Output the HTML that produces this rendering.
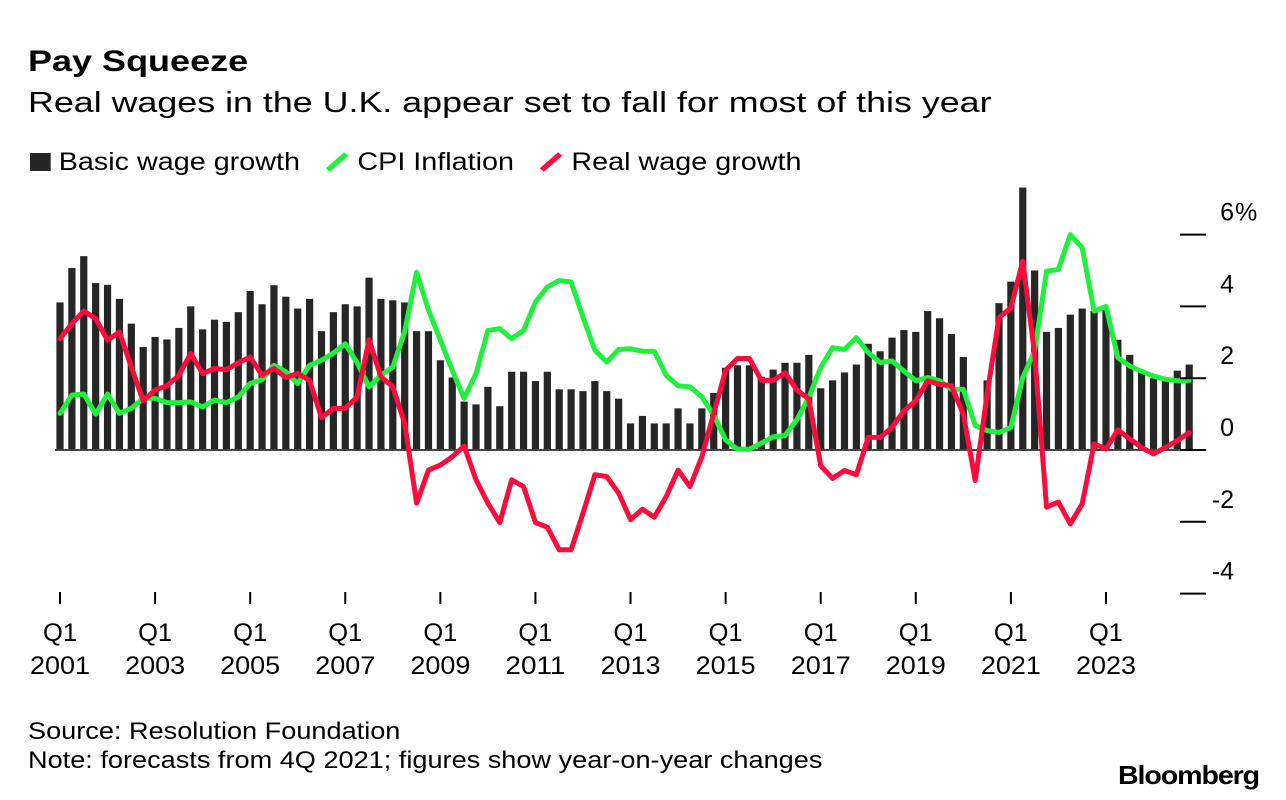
<!DOCTYPE html>
<html><head><meta charset="utf-8"><style>
body{margin:0;background:#fff;font-family:"Liberation Sans",sans-serif;color:#000}
#wrap{position:relative;width:1286px;height:800px;overflow:hidden}
.t{position:absolute;white-space:nowrap;transform-origin:0 0}
</style></head><body>
<div id="wrap">
<div class="t" style="left:28px;top:45px;font-size:30px;font-weight:bold;transform:scaleX(1.2)">Pay Squeeze</div>
<div class="t" style="left:28px;top:87px;font-size:29px;transform:scaleX(1.235)">Real wages in the U.K. appear set to fall for most of this year</div>
<div class="t" style="left:30px;top:148px;font-size:25px;transform:scaleX(1.15)">
<span><span style="display:inline-block;width:18px;height:18px;background:#262626;vertical-align:-1px"></span> Basic wage growth</span>
<span style="margin-left:14px"><svg width="22" height="22" style="vertical-align:-3px"><line x1="3" y1="19" x2="19" y2="3" stroke="#1ef03c" stroke-width="5"/></svg> CPI Inflation</span>
<span style="margin-left:14px"><svg width="22" height="22" style="vertical-align:-3px"><line x1="3" y1="19" x2="19" y2="3" stroke="#ff0a3c" stroke-width="5"/></svg> Real wage growth</span>
</div>
<svg id="plot" width="1286" height="800" style="position:absolute;left:0;top:0"></svg>
<div class="t" style="left:28px;top:718px;font-size:24px;transform:scaleX(1.13)">Source: Resolution Foundation</div>
<div class="t" style="left:28px;top:747px;font-size:24px;transform:scaleX(1.13)">Note: forecasts from 4Q 2021; figures show year-on-year changes</div>
<div class="t" style="left:1118px;top:760px;font-size:26px;font-weight:bold;letter-spacing:-1px;transform:scaleX(1.1)">Bloomberg</div>
</div>
<script>
const basicWage=[4.11,5.07,5.4,4.65,4.6,4.21,3.52,2.87,3.15,3.08,3.4,4.0,3.36,3.63,3.57,3.84,4.43,4.06,4.59,4.27,3.94,4.21,3.31,3.84,4.06,4.0,4.8,4.21,4.17,4.11,3.31,3.31,2.5,2.02,1.35,1.27,1.76,1.22,2.18,2.18,1.92,2.18,1.69,1.69,1.64,1.92,1.64,1.43,0.74,0.95,0.74,0.74,1.16,0.74,1.16,1.59,2.29,2.36,2.36,2.04,2.24,2.43,2.43,2.65,1.72,1.94,2.16,2.38,2.96,2.75,3.13,3.34,3.29,3.87,3.67,3.23,2.59,0,1.94,4.09,4.69,7.31,5.0,3.29,3.4,3.77,3.94,3.87,3.9,3.07,2.65,2.16,2.0,2.0,2.21,2.38];
const cpi=[1.02,1.53,1.56,1.0,1.56,1.02,1.16,1.44,1.44,1.32,1.32,1.34,1.2,1.39,1.32,1.48,1.85,1.96,2.36,2.18,1.85,2.36,2.5,2.7,2.96,2.43,1.76,2.08,2.31,3.3,4.95,3.9,3.06,2.22,1.44,2.13,3.33,3.38,3.1,3.33,4.12,4.54,4.72,4.68,3.7,2.78,2.45,2.8,2.82,2.75,2.75,2.08,1.79,1.76,1.48,0.97,0.28,0.02,0.02,0.19,0.37,0.4,0.85,1.46,2.3,2.85,2.8,3.13,2.71,2.44,2.48,2.2,1.93,2.02,1.93,1.69,1.69,0.68,0.54,0.49,0.63,2.02,2.76,4.98,5.03,6.0,5.63,3.87,4.0,2.57,2.34,2.19,2.06,1.97,1.93,1.94];
const realWage=[3.1,3.52,3.87,3.66,3.06,3.29,2.31,1.37,1.67,1.79,2.08,2.69,2.13,2.27,2.24,2.43,2.59,2.08,2.27,2.02,2.13,1.94,0.9,1.16,1.16,1.48,3.07,2.04,1.76,0.74,-1.48,-0.56,-0.42,-0.19,0.11,-0.83,-1.48,-2.02,-0.83,-1.02,-2.02,-2.15,-2.78,-2.78,-1.76,-0.69,-0.74,-1.2,-1.94,-1.65,-1.87,-1.3,-0.56,-1.02,-0.19,1.02,2.22,2.55,2.55,1.94,1.94,2.15,1.67,1.42,-0.44,-0.79,-0.57,-0.69,0.35,0.35,0.63,1.09,1.37,1.93,1.83,1.79,1.0,-0.85,1.56,3.69,3.96,5.26,2.67,-1.59,-1.45,-2.06,-1.5,0.17,0.03,0.56,0.31,0.07,-0.11,0.07,0.26,0.49];
const yTicks=[6,4,2,0,-2,-4];
const yTickLabels=["6","4","2","0","-2","-4"];
const xLabelIdx=[0,8,16,24,32,40,48,56,64,72,80,88];
const xLabelYears=["2001","2003","2005","2007","2009","2011","2013","2015","2017","2019","2021","2023"];

const NS="http://www.w3.org/2000/svg";
const svg=document.getElementById('plot');
const x=i=>60+i*11.886;
const y=v=>450-v*35.9;
function mk(tag,attrs){const e=document.createElementNS(NS,tag);for(const k in attrs)e.setAttribute(k,attrs[k]);svg.appendChild(e);return e;}

basicWage.forEach((v,i)=>{
  const r=mk('rect',{x:x(i)-3.6,y:Math.min(y(v),y(0)),width:7.2,height:Math.abs(y(v)-y(0)),fill:'#262626'});
  
  
});
const zl=mk('line',{x1:55,x2:1195,y1:y(0),y2:y(0),stroke:'#444','stroke-width':2});



function line(arr,color,name){
  const p=mk('polyline',{points:arr.map((v,i)=>x(i)+','+y(v)).join(' '),fill:'none',stroke:color,'stroke-width':5,'stroke-linejoin':'round','stroke-linecap':'round'});
  
  
}
line(cpi,'#1ef03c','cpi-line');
line(realWage,'#ff0a3c','real-wage-line');

yTicks.forEach((v,i)=>{
  const t=mk('line',{x1:1180,x2:1206,y1:y(v),y2:y(v),stroke:'#000','stroke-width':2});
  
  
  const l=mk('text',{x:1234,y:y(v)-14,'text-anchor':'end','font-size':25,'font-family':'Liberation Sans, sans-serif'});
  l.textContent=yTickLabels[i];
  
  
  if(i===0){
    const pc=mk('text',{x:1235,y:y(v)-14,'font-size':25,'font-family':'Liberation Sans, sans-serif'});
    pc.textContent='%';
    
    
  }
});
xLabelIdx.forEach((idx,i)=>{
  const t=mk('line',{x1:x(idx),x2:x(idx),y1:592,y2:604,stroke:'#000','stroke-width':2});
  
  
  const q=mk('text',{x:x(idx)-17,y:641,'font-size':25,textLength:34,lengthAdjust:'spacingAndGlyphs','font-family':'Liberation Sans, sans-serif'});
  q.textContent='Q1';
  
  
  const yr=mk('text',{x:x(idx)-30,y:674,'font-size':25,textLength:60,lengthAdjust:'spacingAndGlyphs','font-family':'Liberation Sans, sans-serif'});
  yr.textContent=xLabelYears[i];
  
  
});
</script>
</body></html>
